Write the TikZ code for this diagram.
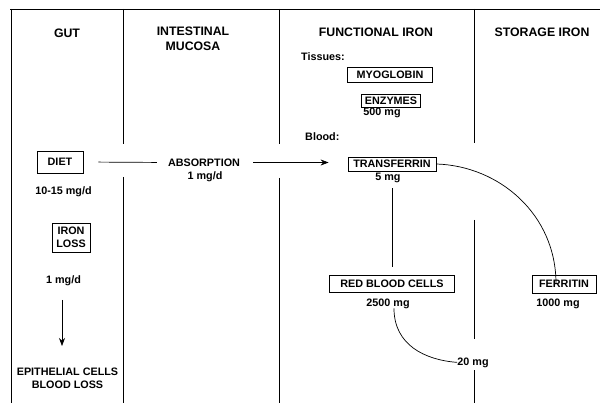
\documentclass[tikz,border=0pt]{standalone}
\usepackage{fontspec}
\setmainfont{Liberation Sans}
\usetikzlibrary{arrows.meta}
\begin{document}
\begin{tikzpicture}[x=1pt,y=-1pt,
  every node/.style={font=\fontsize{10.8}{13}\selectfont\bfseries, inner sep=0pt},
  hdr/.style={font=\fontsize{12.3}{14.5}\selectfont\bfseries, anchor=base},
  lbl/.style={anchor=base},
  box/.style={draw, line width=0.8pt, align=center},
  rule/.style={line width=0.8pt},
  conn/.style={line width=0.7pt}]
\useasboundingbox (0,0) rectangle (605,403);
\fill[white] (0,0) rectangle (605,403);
% frame and column dividers
\draw[rule] (10,9) -- (600,9);
\draw[rule] (11,9) -- (11,403);
\draw[rule] (123,9) -- (123,144);
\draw[rule] (123,177) -- (123,403);
\draw[rule] (279,9) -- (279,144);
\draw[rule] (279,178) -- (279,403);
\draw[rule] (474,9) -- (474,143);
\draw[rule] (474,220) -- (474,339);
\draw[rule] (474,370) -- (474,403);
% headers
\node[hdr] (gut) at (67,37.4) {GUT};
\node[hdr] (int1) at (193,36) {INTESTINAL};
\node[hdr] (int2) at (193,50.4) {MUCOSA};
\node[hdr] (func) at (376,36.4) {FUNCTIONAL IRON};
\node[hdr] (stor) at (542,36.4) {STORAGE IRON};
% functional iron
\node[lbl, anchor=base west] (tis) at (301,61) {Tissues:};
\node[box, minimum width=85, minimum height=15] (myo) at (390,74.5) {MYOGLOBIN};
\node[box, minimum width=59, minimum height=13] (enz) at (391,100.5) {ENZYMES};
\node[lbl] (enzmg) at (382,116) {500 mg};
\node[lbl, anchor=base west] (blood) at (305,141) {Blood:};
\node[box, minimum width=88, minimum height=14] (tf) at (392,164) {TRANSFERRIN};
\node[lbl] (tfmg) at (388,181) {5 mg};
\node[box, minimum width=125, minimum height=17] (rbc) at (392,283.5) {RED BLOOD CELLS};
\node[lbl] (rbcmg) at (388,307) {2500 mg};
\node[lbl] (m20) at (473,365) {20 mg};
% storage iron
\node[box, minimum width=64, minimum height=18] (fer) at (564,284) {FERRITIN};
\node[lbl] (fermg) at (558,307) {1000 mg};
% gut
\node[box, minimum width=46, minimum height=22] (diet) at (60,162) {DIET};
\node[lbl] (dietmg) at (63.5,195) {10-15 mg/d};
\node[box, minimum width=38, minimum height=29, font=\fontsize{10.8}{12.5}\selectfont\bfseries] (loss) at (71,237.5) {IRON\\LOSS};
\node[lbl] (lossmg) at (63.5,284) {1 mg/d};
\node[lbl] (epi) at (67.5,375) {EPITHELIAL CELLS};
\node[lbl] (bl) at (67.5,388) {BLOOD LOSS};
\coordinate (arrtop) at (62,300);
\coordinate (arrbot) at (62,346);
% mucosa
\node[anchor=center] (abs) at (204,162.5) {ABSORPTION};
\node[lbl] (absmg) at (205,180) {1 mg/d};
% connectors
\draw[conn, shorten <=15pt, shorten >=11pt] (diet.east) -- (abs.west);
\draw[conn, shorten <=13pt, shorten >=19pt, -{Stealth[length=8pt,width=6pt]}] (abs.east) -- (tf.west |- abs.east);
\draw[conn, shorten <=17pt, shorten >=8pt] (tf.south) -- (rbc.north);
\draw[conn] (tf.east) .. controls (500,166) and (556,215) .. ([xshift=-8pt, yshift=-9pt]fer.north);
\draw[conn] ([xshift=6pt, yshift=1pt]rbcmg.south) .. controls (394,345) and (425,360) .. (m20.west);
\draw[conn, -{Stealth[length=8pt,width=6pt]}] (arrtop) -- (arrbot);
\end{tikzpicture}
\end{document}
